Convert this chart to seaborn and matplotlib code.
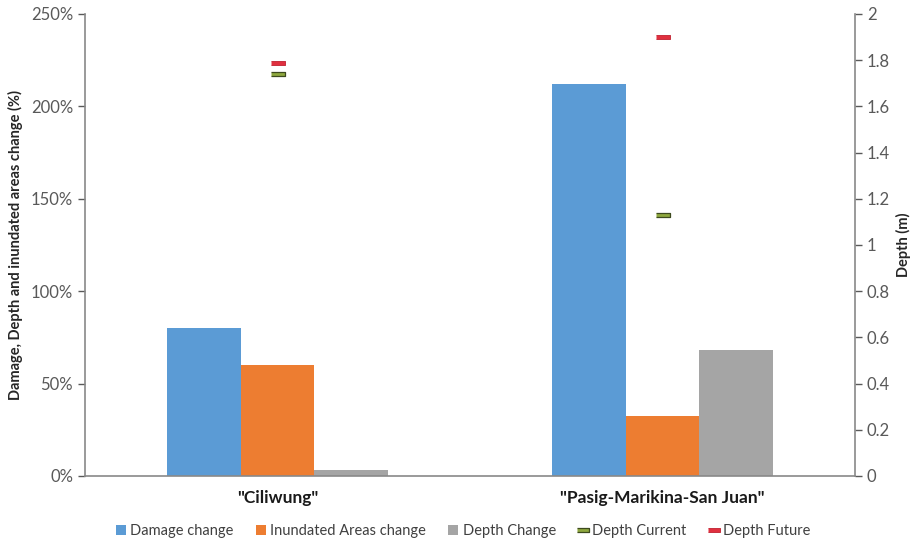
import pandas as pd
import seaborn as sns
from matplotlib import pyplot as plt
from matplotlib.lines import Line2D
from matplotlib.patches import Patch
from matplotlib.ticker import FuncFormatter, MultipleLocator

sns.set_theme(style='white')
plt.rcParams['font.family'] = ['Lato', 'DejaVu Sans']

basins = ['"Ciliwung"', '"Pasig-Marikina-San Juan"']
series = ['Damage change', 'Inundated Areas change', 'Depth Change']
damage_change = [80, 212]
inundated_change = [60, 32.5]
depth_change = [3, 68]
depth_current = [1.74, 1.13]
depth_future = [1.79, 1.90]

bar_colors = ['#5B9BD5', '#ED7D31', '#A5A5A5']

df = pd.DataFrame({
	'Basin': basins * 3,
	'Series': [s for s in series for _ in basins],
	'Value': damage_change + inundated_change + depth_change,
})

fig = plt.figure(figsize = (9.17, 5.45), dpi = 100)
ax = fig.add_axes([85 / 917, 69 / 545, 770 / 917, 462 / 545])

sns.barplot(data = df, x = 'Basin', y = 'Value', hue = 'Series', hue_order = series,
	palette = bar_colors, width = 0.574, saturation = 1, gap = 0, linewidth = 0,
	ax = ax, legend = False)

ax.set_ylim(0, 250)
ax.yaxis.set_major_locator(MultipleLocator(50))
ax.yaxis.set_major_formatter(FuncFormatter(lambda v, p: f'{v:.0f}%'))
ax.set_xlim(-0.5, 1.5)
ax.set_xlabel('')
ax.set_ylabel('Damage, Depth and inundated areas change (%)', fontsize = 10.5, fontweight = 'bold', color = '#262626', labelpad = 6)
ax.tick_params(axis = 'y', labelsize = 12, colors = '#595959', length = 5, width = 1, direction = 'out', left = True)
ax.tick_params(axis = 'x', labelsize = 12.5, length = 0, pad = 10)
for lbl in ax.get_xticklabels():
	lbl.set_fontweight('bold')
	lbl.set_color('#1a1a1a')
for side in ['left', 'bottom']:
	ax.spines[side].set_color('#898989')
	ax.spines[side].set_linewidth(1.2)
ax.spines['top'].set_visible(False)
ax.spines['right'].set_visible(False)

ax2 = ax.twinx()
rect = [(-3, -1), (3, -1), (3, 1), (-3, 1)]
xs = list(range(len(basins)))
ax2.plot(xs, depth_current, linestyle = 'none', marker = rect, markersize = 9.5,
	markerfacecolor = '#8FA83E', markeredgecolor = '#3d4a1f', markeredgewidth = 0.9)
ax2.plot(xs, depth_future, linestyle = 'none', marker = rect, markersize = 9.5,
	markerfacecolor = '#E0303F', markeredgecolor = '#c02030', markeredgewidth = 0.6)
ax2.set_ylim(0, 2)
ax2.yaxis.set_major_locator(MultipleLocator(0.2))
ax2.yaxis.set_major_formatter(FuncFormatter(lambda v, p: f'{v:.1f}'.rstrip('0').rstrip('.') if v else '0'))
ax2.set_ylabel('Depth (m)', fontsize = 10.5, fontweight = 'bold', color = '#262626', labelpad = 4)
ax2.tick_params(axis = 'y', labelsize = 12, colors = '#595959', length = 5, width = 1, direction = 'out', right = True)
ax2.spines['right'].set_color('#898989')
ax2.spines['right'].set_linewidth(1.2)
for side in ['top', 'left', 'bottom']:
	ax2.spines[side].set_visible(False)

handles = [Patch(facecolor = c, edgecolor = 'none') for c in bar_colors]
handles.append(Line2D([], [], linestyle = 'none', marker = rect, markersize = 9,
	markerfacecolor = '#8FA83E', markeredgecolor = '#3d4a1f', markeredgewidth = 0.9))
handles.append(Line2D([], [], linestyle = 'none', marker = rect, markersize = 9,
	markerfacecolor = '#E0303F', markeredgecolor = '#c02030', markeredgewidth = 0.6))
labels = series + ['Depth Current', 'Depth Future']
fig.legend(handles, labels, loc = 'center', bbox_to_anchor = (0.505, 0.025), ncol = 5, frameon = False,
	fontsize = 10.5, handlelength = 0.7, handleheight = 0.7, handletextpad = 0.3, columnspacing = 1.5,
	labelcolor = '#404040')

plt.savefig('out.png', dpi = 100)
